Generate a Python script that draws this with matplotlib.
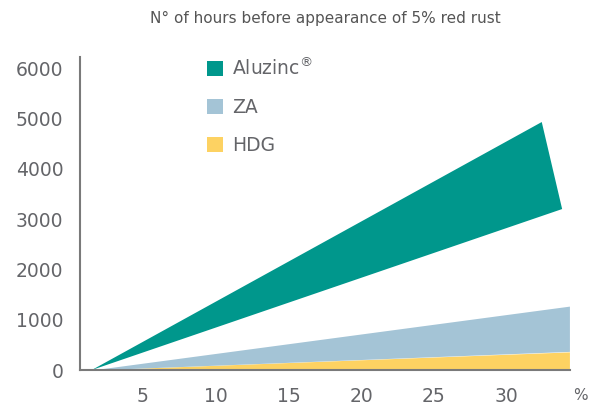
import matplotlib
matplotlib.use("Agg")
import matplotlib.pyplot as plt
from matplotlib.patches import Patch

# Data
alz_x = [1.5, 32.4, 33.8]
alz_y = [0, 4930, 3200]
band_x = [1.5, 34.3]
za_low = [0, 370]
za_high = [0, 1270]
hdg_low = [0, 0]
hdg_high = [0, 360]
xticks = [5, 10, 15, 20, 25, 30]
yticks = [0, 1000, 2000, 3000, 4000, 5000, 6000]
labels = [r"Aluzinc$^{\circledR}$", "ZA", "HDG"]
colors = ["#00978c", "#a4c4d6", "#fdd262"]
title = "N° of hours before appearance of 5% red rust"

txt = "#646569"
fig = plt.figure(figsize=(5.98, 4.07), dpi=100)
ax = fig.add_axes([80/598, 37/407, 490/598, 313/407])

ax.fill_between(band_x, hdg_low, hdg_high, color=colors[2], lw=0)
ax.fill_between(band_x, za_low, za_high, color=colors[1], lw=0)
ax.fill(alz_x, alz_y, color=colors[0], lw=0)

ax.set_xlim(0.69, 34.34)
ax.set_ylim(0, 6223)
ax.set_xticks(xticks)
ax.set_yticks(yticks)
ax.tick_params(length=0, labelsize=13.5, labelcolor=txt)
ax.tick_params(axis="x", pad=12)
ax.tick_params(axis="y", pad=12)
for s in ["top", "right"]:
    ax.spines[s].set_visible(False)
for s in ["left", "bottom"]:
    ax.spines[s].set_color("#7a7a7a")
    ax.spines[s].set_linewidth(1.5)

fig.text(580/598, 1 - 395/407, "%", ha="center", va="center", fontsize=11, color=txt)
fig.text(325/598, 1 - 18/407, title, ha="center", va="center", fontsize=11, color="#555555")

handles = [Patch(facecolor=c, edgecolor="none") for c in colors]
leg = ax.legend(handles, labels, loc="upper left", bbox_to_anchor=((207-80)/490, (370-57)/313),
                frameon=False, fontsize=13.5, handlelength=0.85, handleheight=0.85,
                handletextpad=0.5, labelspacing=1.0, borderaxespad=0, borderpad=0)
for t in leg.get_texts():
    t.set_color(txt)

fig.savefig("out.png", dpi=100)
